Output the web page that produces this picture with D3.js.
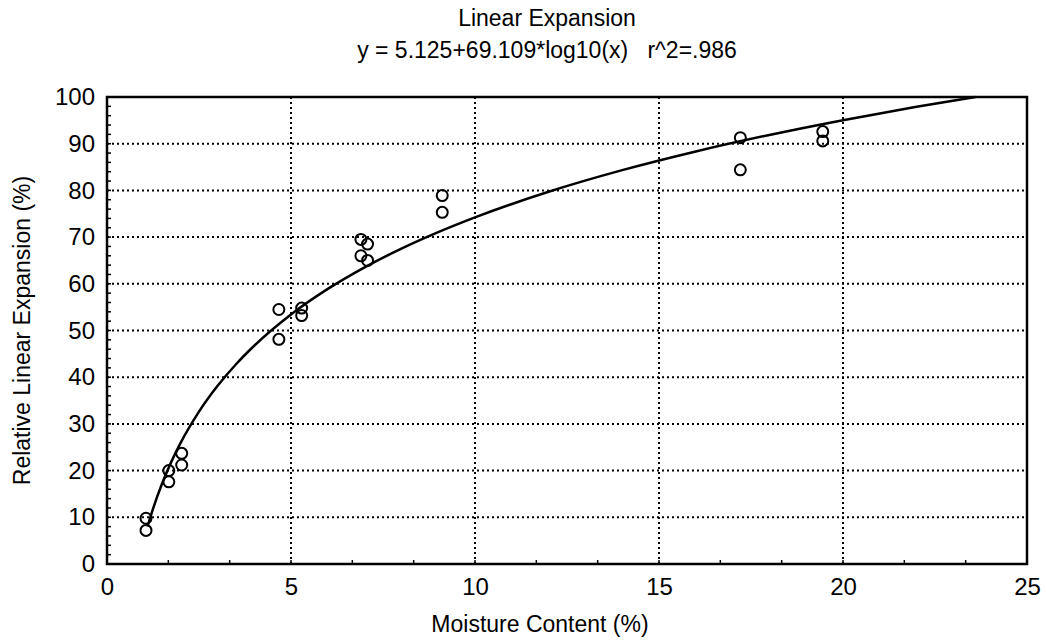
<!DOCTYPE html>
<html>
<head>
<meta charset="utf-8">
<script src="https://cdn.jsdelivr.net/npm/d3@7"></script>
<style>
  body { margin: 0; background: #fff; }
  text { font-family: "Liberation Sans", Arial, sans-serif; fill: #000; }
</style>
</head>
<body>
<svg id="chart" width="1046" height="643"></svg>
<script>
// values
const moisture = [1.06, 1.06, 1.68, 1.68, 2.03, 2.03, 4.67, 4.67, 5.29, 5.29,
	6.9, 6.9, 7.08, 7.08, 9.11, 9.11, 17.21, 17.21, 19.45, 19.45];
const expansion = [9.8, 7.2, 20.0, 17.6, 23.7, 21.2, 54.5, 48.1, 54.8, 53.2,
	69.5, 66.0, 68.5, 65.0, 78.9, 75.3, 91.3, 84.4, 92.6, 90.6];
const xTicks = [0, 5, 10, 15, 20, 25];
const yTicks = [0, 10, 20, 30, 40, 50, 60, 70, 80, 90, 100];
const fitA = 5.125;
const fitB = 69.109;
const fitX = [1.1, 1.25, 1.5, 1.75, 2, 2.5, 3, 3.5, 4, 5, 6, 7, 8, 9, 10, 12, 14, 16, 18, 20, 22, 23.6];

const svg = d3.select('#chart');
const plotL = 107, plotR = 1027, plotT = 97, plotB = 564;

const x = d3.scaleLinear().domain([0, 25]).range([plotL, plotR]);
const y = d3.scaleLinear().domain([0, 100]).range([plotB, plotT]);

// grid
svg.append('g').selectAll('line')
	.data(yTicks.filter(d => d > 0 && d < 100))
	.enter().append('line')
	.attr('x1', plotL).attr('x2', plotR)
	.attr('y1', d => y(d)).attr('y2', d => y(d))
	.attr('stroke', '#000').attr('stroke-width', 2)
	.attr('stroke-dasharray', '2,3');

svg.append('g').selectAll('line')
	.data(xTicks.filter(d => d > 0 && d < 25))
	.enter().append('line')
	.attr('y1', plotT).attr('y2', plotB)
	.attr('x1', d => x(d)).attr('x2', d => x(d))
	.attr('stroke', '#000').attr('stroke-width', 2)
	.attr('stroke-dasharray', '2,3');

// minor ticks
const xMinor = d3.range(0, 25.01, 5 / 3);
svg.append('g').selectAll('line')
	.data(xMinor)
	.enter().append('line')
	.attr('x1', d => x(d)).attr('x2', d => x(d))
	.attr('y1', plotB).attr('y2', plotB - 4)
	.attr('stroke', '#000').attr('stroke-width', 1.5);

const yMinor = d3.range(0, 100.01, 2);
svg.append('g').selectAll('line')
	.data(yMinor)
	.enter().append('line')
	.attr('y1', d => y(d)).attr('y2', d => y(d))
	.attr('x1', plotL).attr('x2', plotL + 4)
	.attr('stroke', '#000').attr('stroke-width', 1.5);

// frame
svg.append('rect')
	.attr('x', plotL).attr('y', plotT)
	.attr('width', plotR - plotL).attr('height', plotB - plotT)
	.attr('fill', 'none').attr('stroke', '#000').attr('stroke-width', 2.5);

// axes labels
const xAxis = d3.axisBottom(x).tickValues(xTicks).tickSize(0).tickPadding(14);
const gx = svg.append('g').attr('transform', `translate(0,${plotB})`).call(xAxis);
gx.select('.domain').remove();
gx.selectAll('.tick text')
	.attr('font-size', 24)
	.attr('font-family', '"Liberation Sans", Arial, sans-serif')
	.attr('fill', '#000');

const yAxis = d3.axisLeft(y).tickValues(yTicks).tickSize(0).tickPadding(12);
const gy = svg.append('g').attr('transform', `translate(${plotL},0)`).call(yAxis);
gy.select('.domain').remove();
gy.selectAll('.tick text')
	.attr('font-size', 24)
	.attr('font-family', '"Liberation Sans", Arial, sans-serif')
	.attr('fill', '#000');

// fitted curve
const line = d3.line()
	.x(d => x(d))
	.y(d => y(fitA + fitB * Math.log10(d)))
	.curve(d3.curveMonotoneX);

svg.append('path')
	.datum(fitX)
	.attr('d', line)
	.attr('fill', 'none')
	.attr('stroke', '#000')
	.attr('stroke-width', 2.5);

// points
svg.append('g').selectAll('circle')
	.data(moisture.map((m, i) => [m, expansion[i]]))
	.enter().append('circle')
	.attr('cx', d => x(d[0]))
	.attr('cy', d => y(d[1]))
	.attr('r', 5.5)
	.attr('fill', 'none')
	.attr('stroke', '#000')
	.attr('stroke-width', 2);

// titles
svg.append('text')
	.attr('x', 547).attr('y', 26)
	.attr('text-anchor', 'middle')
	.attr('font-size', 23)
	.text('Linear Expansion');

svg.append('text')
	.attr('x', 547).attr('y', 58)
	.attr('text-anchor', 'middle')
	.attr('font-size', 23)
	.attr('xml:space', 'preserve')
	.text('y = 5.125+69.109*log10(x)   r^2=.986');

svg.append('text')
	.attr('x', 540).attr('y', 632)
	.attr('text-anchor', 'middle')
	.attr('font-size', 23)
	.text('Moisture Content (%)');

svg.append('text')
	.attr('transform', `translate(30,${(plotT + plotB) / 2}) rotate(-90)`)
	.attr('text-anchor', 'middle')
	.attr('font-size', 23)
	.text('Relative Linear Expansion (%)');
</script>
</body>
</html>
